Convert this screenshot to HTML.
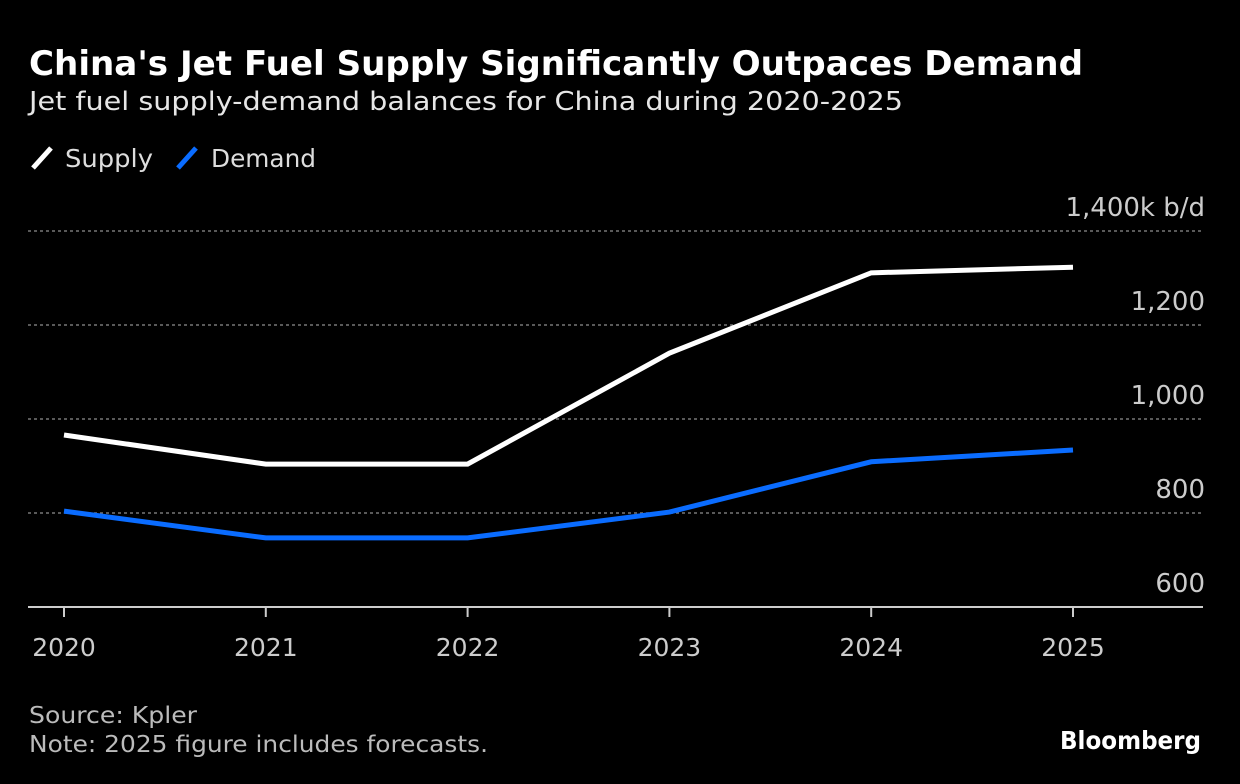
<!DOCTYPE html>
<html><head><meta charset="utf-8"><style>
html,body{margin:0;padding:0;background:#000;}
body{width:1240px;height:784px;overflow:hidden;font-family:"DejaVu Sans","Liberation Sans",sans-serif;color:#fff;position:relative;}
svg text{font-family:"DejaVu Sans","Liberation Sans",sans-serif;}
</style></head><body>
<svg width="1240" height="784" style="position:absolute;left:0;top:0">
<text x="29" y="75" font-size="34" font-weight="bold" fill="#fff" textLength="1054" lengthAdjust="spacingAndGlyphs">China's Jet Fuel Supply Significantly Outpaces Demand</text>
<text x="29" y="110" font-size="26" fill="#e6e6e6" textLength="874" lengthAdjust="spacingAndGlyphs">Jet fuel supply-demand balances for China during 2020-2025</text>
<g>
<line x1="33" y1="168" x2="51" y2="148" stroke="#fff" stroke-width="5"/>
<text x="65" y="167" font-size="25" fill="#ddd" textLength="88" lengthAdjust="spacingAndGlyphs">Supply</text>
<line x1="178" y1="168" x2="196" y2="148" stroke="#0a6cff" stroke-width="5"/>
<text x="211" y="167" font-size="25" fill="#ddd" textLength="105" lengthAdjust="spacingAndGlyphs">Demand</text>
</g>
<g id="grid"></g><g id="lines"></g><g id="xt"></g>
<text x="29" y="723" font-size="23" fill="#bbb" textLength="168" lengthAdjust="spacingAndGlyphs">Source: Kpler</text>
<text x="29" y="752" font-size="23" fill="#bbb" textLength="459" lengthAdjust="spacingAndGlyphs">Note: 2025 figure includes forecasts.</text>
<text x="1060" y="749" font-size="25" font-weight="bold" fill="#fff" textLength="141" lengthAdjust="spacingAndGlyphs">Bloomberg</text>
</svg>
<script>
const years=["2020","2021","2022","2023","2024","2025"];
const supply=[966,904,904,1140,1311,1323];
const demand=[804,747,747,802,909,934];
const yTicks=[600,800,1000,1200,1400];
const NS="http://www.w3.org/2000/svg";
function X(i){return 64+i*201.8;}
function Y(v){return 607-(v-600)*0.47;}
function mk(t,a,p){const e=document.createElementNS(NS,t);for(const k in a)e.setAttribute(k,a[k]);p.appendChild(e);return e;}
const g=document.getElementById('grid');
yTicks.forEach(v=>{
 if(v>600){const l=mk('line',{x1:28,x2:1203,y1:Y(v),y2:Y(v),stroke:'#777','stroke-width':1.5,'stroke-dasharray':'3,3'},g);
 
 }
 const s=v.toLocaleString('en-US')+(v===1400?'k b/d':'');
 const t=mk('text',{x:1205,y:Y(v)-15,'font-size':26,fill:'#ccc','text-anchor':'end'},g);
 t.textContent=s;
 
 
});
const base=mk('line',{x1:28,x2:1203,y1:607,y2:607,stroke:'#ccc','stroke-width':2},g);


const xt=document.getElementById('xt');
years.forEach((y,i)=>{
 const tk=mk('line',{x1:X(i),x2:X(i),y1:607,y2:617,stroke:'#ccc','stroke-width':2},xt);
 
 
 const t=mk('text',{x:X(i),y:656,'font-size':25,fill:'#ccc','text-anchor':'middle'},xt);
 t.textContent=y;
 
 
});
const L=document.getElementById('lines');
[[supply,'#fff','supply-line'],[demand,'#0a6cff','demand-line']].forEach(([d,c,n])=>{
 const p=mk('polyline',{points:d.map((v,i)=>X(i)+','+Y(v)).join(' '),fill:'none',stroke:c,'stroke-width':5},L);
 
 
});
</script>
</body></html>
